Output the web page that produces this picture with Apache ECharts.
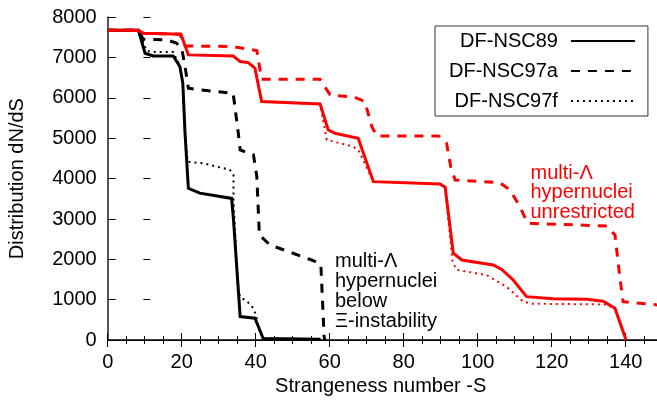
<!DOCTYPE html>
<html>
<head>
<meta charset="utf-8">
<script src="https://cdn.jsdelivr.net/npm/echarts@6/dist/echarts.min.js"></script>
<style>
html,body{margin:0;padding:0;background:#fff;}
#chart{width:657px;height:401px;}
</style>
</head>
<body>
<div id="chart"></div>
<script>
// ---- data ----
const seriesNames = ['DF-NSC89', 'DF-NSC97a', 'DF-NSC97f'];
const xTicks = [0, 20, 40, 60, 80, 100, 120, 140];
const yTicks = [0, 1000, 2000, 3000, 4000, 5000, 6000, 7000, 8000];

// multi-Lambda hypernuclei below Xi-instability (black)
const nsc89Below = [[0,7680],[8.3,7680],[10.1,7110],[12.3,7043],[17.7,7043],[19.5,6780],[20.3,6370],[20.9,5130],[21.8,3760],[24.9,3640],[33.5,3510],[34,2980],[35.8,580],[39.8,540],[42,40],[57.5,20]];
const nsc97aBelow = [[0,7680],[8.3,7680],[9.6,7457],[15.9,7440],[18.6,7360],[20,7234],[20.9,6780],[21.8,6240],[24.9,6200],[33.9,6118],[35.3,5126],[35.8,4712],[39.4,4588],[40.3,4050],[41,2600],[43.9,2356],[55.1,1984],[57.6,1880],[58.5,80],[58.7,0]];
const nsc97fBelow = [[0,7680],[8.3,7680],[10.5,7175],[12,7140],[17.7,7140],[19.5,6800],[20.3,6370],[20.9,5130],[21.6,4420],[25.8,4380],[33,4220],[34,4090],[34,3470],[35.2,1200],[36,1050],[37.1,990],[38.5,890],[39.3,790],[40.1,620],[40.6,350],[42,40],[57.5,20]];

// multi-Lambda hypernuclei unrestricted (red)
const nsc89Unres = [[0,7680],[8.3,7680],[9.6,7606],[19.8,7580],[21.8,7068],[33.9,7043],[35.8,6902],[38,6877],[39.8,6738],[41.6,5910],[57.4,5853],[59.6,5208],[61.4,5125],[67.7,5000],[71.8,3926],[89.8,3870],[91.2,3790],[93.4,2150],[95.7,1984],[104.2,1860],[106.5,1750],[109.6,1488],[113.2,1074],[120.4,1020],[129.5,1010],[133.9,960],[137.1,786],[140.1,0]];
const nsc97aUnres = [[0,7680],[8.3,7680],[9.6,7606],[19.5,7580],[20.9,7291],[33.9,7274],[40.3,7175],[41.6,6465],[57.4,6465],[60.1,6076],[66.8,6018],[69.5,5910],[71.4,5290],[72.7,5059],[89.4,5059],[91.6,4878],[92.7,4298],[93.9,3968],[106,3901],[108.7,3720],[111.4,3306],[113.5,2894],[134.9,2827],[137.1,2604],[138.5,1488],[139.3,950],[148.6,868]];
const nsc97fUnres = [[0,7680],[8.3,7680],[9.6,7606],[19.8,7580],[21.8,7068],[33.9,7043],[35.8,6902],[38,6877],[39.8,6738],[41.6,5910],[57.4,5853],[59.2,4960],[66.4,4794],[67.8,4700],[71.8,3926],[89.8,3870],[91.2,3790],[93.2,1940],[94.3,1740],[102.4,1610],[107.8,1320],[112.3,950],[114.6,900],[134.9,880],[137,780],[140.1,0]];

const labelBelow = 'multi-Λ\nhypernuclei\nbelow\nΞ-instability';
const labelUnres = 'multi-Λ\nhypernuclei\nunrestricted';

// ---- chart ----
const FONT = '"Liberation Sans", Arial, Helvetica, sans-serif';
const chart = echarts.init(document.getElementById('chart'), null, {renderer: 'canvas'});

const solid = 'solid', dashed = [9, 8], dotted = [2, 4];
function mk(name, data, color, type, width) {
  return {
    name: name, type: 'line', data: data, showSymbol: false, symbol: 'none',
    clip: true, animation: false,
    lineStyle: {color: color, width: width, type: type, cap: 'butt', join: 'miter'},
    itemStyle: {color: color}
  };
}

const option = {
  animation: false,
  backgroundColor: '#fff',
  textStyle: {fontFamily: FONT},
  grid: {left: 107.7, top: 17.3, bottom: 61, right: -42.7, containLabel: false, outerBoundsMode: 'none'},
  xAxis: [{
    type: 'value', min: 0, max: 160, interval: 20, position: 'bottom',
    name: 'Strangeness number -S', nameLocation: 'middle', nameGap: 34,
    nameTextStyle: {fontSize: 20, color: '#000', fontFamily: FONT, padding: [0, 46, 0, 0]},
    axisLine: {show: true, lineStyle: {color: '#000', width: 1.5}},
    axisTick: {show: true, inside: true, length: 7, lineStyle: {color: '#000', width: 1}},
    minorTick: {show: true, splitNumber: 4, length: 4, lineStyle: {color: '#000', width: 1}},
    splitLine: {show: false},
    axisLabel: {fontSize: 20, color: '#000', margin: 12, fontFamily: FONT,
      formatter: function (v) { return xTicks.indexOf(v) >= 0 ? String(v) : ''; }}
  }, {
    type: 'value', min: 0, max: 160, interval: 20, position: 'top',
    axisLine: {show: true, lineStyle: {color: '#000', width: 1}},
    axisTick: {show: true, inside: true, length: 7, lineStyle: {color: '#000', width: 1}},
    minorTick: {show: true, splitNumber: 4, length: 4, lineStyle: {color: '#000', width: 1}},
    splitLine: {show: false},
    axisLabel: {show: false}
  }],
  yAxis: [{
    type: 'value', min: 0, max: 8000, interval: 1000, position: 'left',
    name: 'Distribution dN/dS', nameLocation: 'middle', nameGap: 80,
    nameTextStyle: {fontSize: 20, color: '#000', fontFamily: FONT},
    axisLine: {show: true, lineStyle: {color: '#555', width: 2}},
    axisTick: {show: true, inside: true, length: 8, lineStyle: {color: '#000', width: 1}},
    splitLine: {show: false},
    axisLabel: {fontSize: 20, color: '#000', margin: 11, fontFamily: FONT,
      formatter: function (v) { return yTicks.indexOf(v) >= 0 ? String(v) : ''; }}
  }, {
    type: 'value', min: 0, max: 8000, interval: 1000, position: 'right', offset: -42.7,
    axisLine: {show: false},
    axisTick: {show: true, inside: true, length: 7, lineStyle: {color: '#000', width: 1}},
    splitLine: {show: false},
    axisLabel: {show: false}
  }],
  legend: {
    data: seriesNames,
    orient: 'vertical', align: 'right',
    left: 435, top: 26,
    itemWidth: 64, itemHeight: 20, itemGap: 10,
    padding: [5, 12, 5, 14],
    borderColor: '#333', borderWidth: 1, backgroundColor: '#fff',
    selectedMode: false,
    itemStyle: {opacity: 0},
    textStyle: {fontSize: 20, color: '#000', fontFamily: FONT, padding: [0, 8, 0, 0]}
  },
  graphic: [{
    type: 'text', left: 335, top: 251.5, z: 100,
    style: {text: labelBelow, fontSize: 20, lineHeight: 20, fill: '#000', font: '20px ' + FONT}
  }, {
    type: 'text', left: 530.5, top: 163, z: 100,
    style: {text: labelUnres, fontSize: 20, lineHeight: 19.5, fill: '#ff0000', font: '20px ' + FONT}
  }],
  series: [
    mk('DF-NSC89', nsc89Below, '#000', solid, 3),
    mk('DF-NSC97a', nsc97aBelow, '#000', dashed, 3),
    mk('DF-NSC97f', nsc97fBelow, '#000', dotted, 2),
    mk('DF-NSC89 unrestricted', nsc89Unres, '#ff0000', solid, 3),
    mk('DF-NSC97a unrestricted', nsc97aUnres, '#ff0000', dashed, 3),
    mk('DF-NSC97f unrestricted', nsc97fUnres, '#ff0000', dotted, 2)
  ]
};
chart.setOption(option);
</script>
</body>
</html>
